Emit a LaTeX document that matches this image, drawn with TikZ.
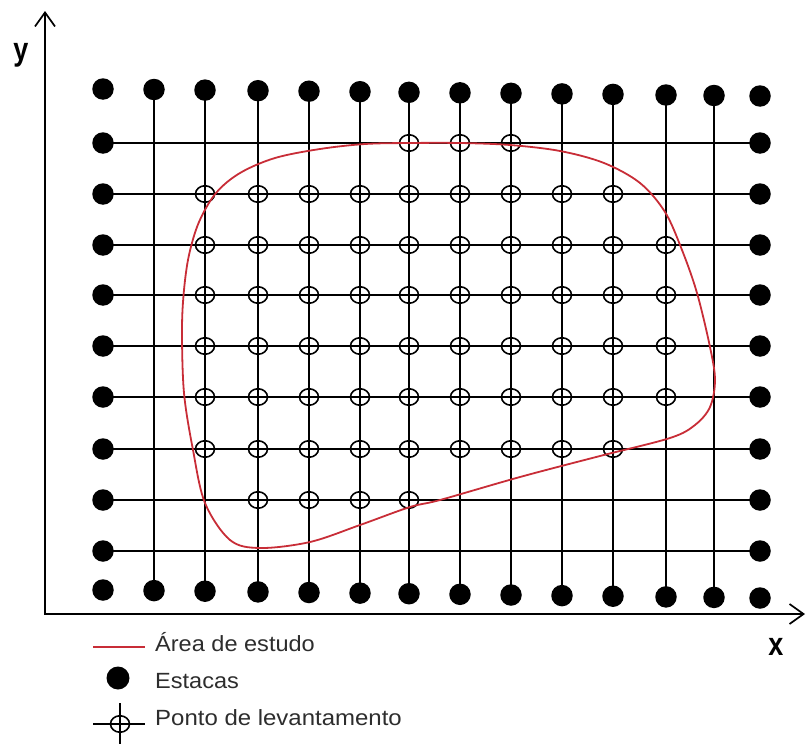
\documentclass[tikz,border=0pt]{standalone}
\usepackage{fontspec}
\setmainfont{Liberation Sans}
\usetikzlibrary{arrows.meta,shapes.geometric}
\definecolor{areared}{RGB}{200,45,55}
\definecolor{legtxt}{RGB}{45,45,45}
\begin{document}
\begin{tikzpicture}[x=1pt,y=-1pt,
  gridline/.style={line width=2.2pt,black},
  axisline/.style={line width=2.4pt,black,line cap=rect,-{Straight Barb[length=14pt,width=20pt,line width=1.7pt]}},
  stake/.style={circle,fill=black,draw=none,minimum size=21.5pt,inner sep=0pt},
  survey/.style={ellipse,draw=black,line width=1.6pt,minimum width=19pt,minimum height=16.5pt,inner sep=0pt},
  arealine/.style={draw=areared,line width=1.8pt},
  axlabel/.style={font=\fontsize{27}{27}\selectfont\bfseries,inner sep=0pt,anchor=base},
  legtext/.style={font=\fontsize{22}{22}\selectfont,text=legtxt,inner sep=0pt,anchor=base west}
]
\useasboundingbox (0,0) rectangle (807,744);

% axes
\coordinate (O) at (45,614);
\coordinate (ytip) at (45,11);
\coordinate (xtip) at (805,614);
\draw[axisline] (O) -- (ytip);
\draw[axisline] (O) -- (xtip);
\node[axlabel] (ylab) at (21,60) {\scalebox{1}[1.2]{y}};
\node[axlabel] (xlab) at (776,655) {\scalebox{1}[1.2]{x}};

% column coordinates (top and bottom stakes)
\foreach \i/\x/\t/\b in {0/103/89/590, 1/154/89.5/590.6, 2/205/90.1/591.2, 3/258/90.7/591.9,
  4/309/91.2/592.5, 5/360/91.7/593.1, 6/409/92.3/593.7, 7/460/92.8/594.3, 8/511/93.3/595,
  9/562/93.9/595.6, 10/613/94.4/596.2, 11/666/95/596.9, 12/714/95.5/597.4, 13/760/96/598}{
  \coordinate (T\i) at (\x,\t);
  \coordinate (B\i) at (\x,\b);
}
% row coordinates (left and right stakes)
\foreach \j/\y in {1/143,2/194,3/245,4/295,5/346,6/397,7/449,8/500,9/551}{
  \coordinate (L\j) at (103,\y);
  \coordinate (R\j) at (760,\y);
}

% grid lines
\foreach \i in {1,...,12}{\draw[gridline] (T\i) -- (B\i);}
\foreach \j in {1,...,9}{\draw[gridline] (L\j) -- (R\j);}

% stakes
\foreach \i in {0,...,13}{
  \node[stake] (sT\i) at (T\i) {};
  \node[stake] (sB\i) at (B\i) {};
}
\foreach \j in {1,...,9}{
  \node[stake] (sL\j) at (L\j) {};
  \node[stake] (sR\j) at (R\j) {};
}

% survey points
\foreach \i in {6,7,8}{\node[survey] (p\i-1) at (T\i |- L1) {};}
\foreach \i in {2,...,10}{\node[survey] (p\i-2) at (T\i |- L2) {};}
\foreach \i in {2,...,11}{\node[survey] (p\i-3) at (T\i |- L3) {};}
\foreach \i in {2,...,11}{\node[survey] (p\i-4) at (T\i |- L4) {};}
\foreach \i in {2,...,11}{\node[survey] (p\i-5) at (T\i |- L5) {};}
\foreach \i in {2,...,11}{\node[survey] (p\i-6) at (T\i |- L6) {};}
\foreach \i in {2,...,10}{\node[survey] (p\i-7) at (T\i |- L7) {};}
\foreach \i in {3,...,6}{\node[survey] (p\i-8) at (T\i |- L8) {};}

% study area boundary
\draw[arealine] plot[smooth cycle, tension=0.55] coordinates {
  (182,330) (184,290) (189,255) (199,222) (216,193) (240,173) (275,158) (320,149)
  (365,144) (410,143) (460,143) (510,145) (560,151) (604,163) (640,183) (665,212)
  (682,250) (697,293) (710,347) (715,380) (710,407) (695,425) (670,438) (600,456)
  (520,477) (440,500) (410,507) (360,525) (310,542) (260,548) (230,540) (205,503)
  (193,450) (184,393)};

% legend
\coordinate (lgA) at (93,647);
\coordinate (lgB) at (145,647);
\draw[arealine] (lgA) -- (lgB);
\node[stake,minimum size=23pt] (lgdot) at (118,678) {};
\node[survey] (lgpt) at (120,724) {};
\coordinate (lgH1) at (93,724);
\coordinate (lgH2) at (145,724);
\coordinate (lgV1) at (120,703);
\coordinate (lgV2) at (120,744);
\draw[line width=1.5pt] (lgH1) -- (lgH2);
\draw[line width=1.5pt] (lgV1) -- (lgV2);
\node[legtext] (lt1) at (155,651) {\scalebox{1.07}[1]{Área de estudo}};
\node[legtext] (lt2) at (155,688) {\scalebox{1.07}[1]{Estacas}};
\node[legtext] (lt3) at (155,725) {\scalebox{1.09}[1]{Ponto de levantamento}};
\end{tikzpicture}
\end{document}
